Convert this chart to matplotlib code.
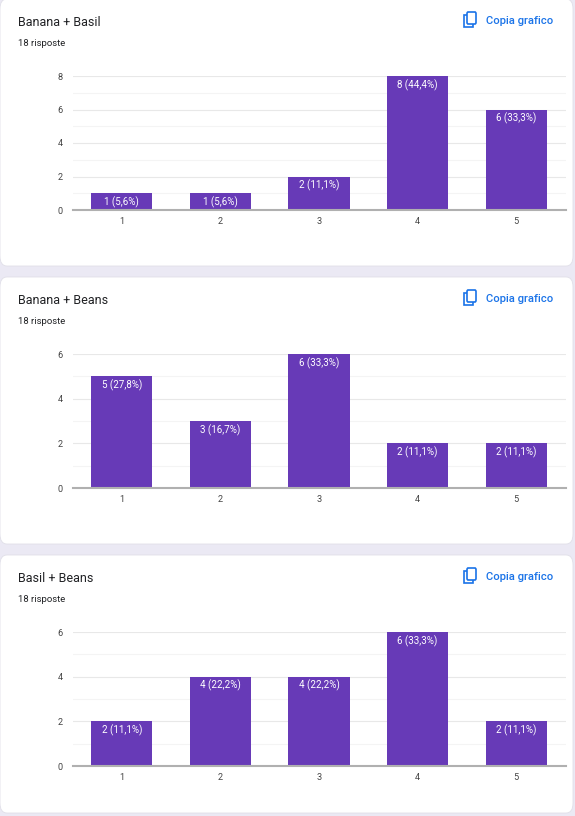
import matplotlib
matplotlib.use("Agg")
import matplotlib.pyplot as plt
from matplotlib.patches import FancyBboxPatch, Rectangle
import numpy as np

plt.rcParams['font.family'] = ['Roboto', 'DejaVu Sans']

# data
categories = ["1", "2", "3", "4", "5"]
titles = ["Banana + Basil", "Banana + Beans", "Basil + Beans"]
banana_basil = [1, 1, 2, 8, 6]
banana_beans = [5, 3, 6, 2, 2]
basil_beans = [2, 4, 4, 6, 2]
series = [banana_basil, banana_beans, basil_beans]
n_responses = 18
ymax_list = [8, 6, 6]

W, H = 575, 816
fig = plt.figure(figsize=(W / 100, H / 100), dpi=100)
fig.patch.set_facecolor("#ebe9f4")

def fx(x):
    return x / W

def fy(y):
    return 1 - y / H

card_tops = [-1, 277, 555]
card_bottoms = [266, 544, 813]
purple = "#673ab7"

for i in range(3):
    top = card_tops[i]
    bot = card_bottoms[i]
    card = FancyBboxPatch((fx(0), fy(bot)), fx(573), (bot - top) / H,
                          boxstyle="round,pad=0,rounding_size=0.012",
                          transform=fig.transFigure, facecolor="white",
                          edgecolor="#e0dfe8", linewidth=0.6, zorder=-2)
    fig.patches.append(card)

    fig.text(fx(18), fy(top + 23), titles[i], fontsize=9, color="#202124",
             va="center", ha="left")
    fig.text(fx(18), fy(top + 45), "%d risposte" % n_responses, fontsize=6.8,
             color="#202124", va="center", ha="left")
    fig.text(fx(486), fy(top + 22), "Copia grafico", fontsize=8.1, color="#1a73e8",
             va="center", ha="left", fontweight="medium")

    # copy icon
    fig.patches.append(Rectangle((fx(463.5), fy(top + 28)), fx(9), 12 / H,
                                 transform=fig.transFigure, fill=False,
                                 edgecolor="#1a73e8", linewidth=1.2, zorder=-1))
    fig.patches.append(FancyBboxPatch((fx(467), fy(top + 25)), fx(9), 12 / H,
                                      boxstyle="round,pad=0,rounding_size=0.002",
                                      transform=fig.transFigure, facecolor="white",
                                      edgecolor="#1a73e8", linewidth=1.2, zorder=-1))

    # plot area
    y0 = top + 77
    y1 = top + 211
    ax = fig.add_axes([fx(72.5), fy(y1), fx(565.5 - 72.5), (y1 - y0) / H])
    ax.patch.set_alpha(0)
    vals = series[i]
    x = np.arange(len(categories))
    ax.set_xlim(-0.5, 4.5)
    ax.set_ylim(0, ymax_list[i])
    for yy in range(1, ymax_list[i] + 1):
        c = "#e8e8e8" if yy % 2 == 0 else "#f4f4f4"
        ax.axhline(yy, color=c, linewidth=0.8, zorder=0)
    bars = ax.bar(x, vals, width=0.62, color=purple, zorder=2)
    for xi, v in zip(x, vals):
        pct = ("%.1f" % (100.0 * v / n_responses)).replace(".", ",")
        ax.annotate("%d (%s%%)" % (v, pct), (xi, v), xytext=(0, -2.2),
                    textcoords="offset points", ha="center", va="top",
                    fontsize=7, color="white", zorder=3)
    ax.set_yticks(range(0, ymax_list[i] + 1, 2))
    ax.set_xticks(x)
    ax.set_xticklabels(categories)
    ax.tick_params(length=0, labelsize=6.6, colors="#444444")
    ax.tick_params(axis="y", pad=7)
    ax.tick_params(axis="x", pad=5)
    for s in ["top", "right", "left"]:
        ax.spines[s].set_visible(False)
    ax.spines["bottom"].set_color("#b0b0b0")
    ax.spines["bottom"].set_linewidth(1.5)
    ax.spines["bottom"].set_zorder(4)

fig.savefig("out.png", dpi=100, facecolor=fig.get_facecolor())
